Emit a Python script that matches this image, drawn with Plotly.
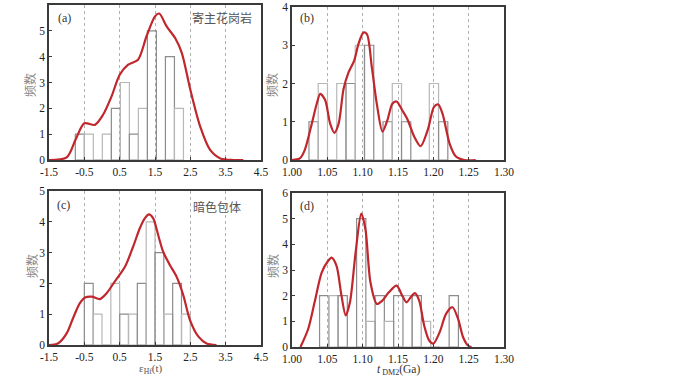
import plotly.graph_objects as go

# ---------------- data ----------------
# histogram bins: left edge, width and counts
a_start, a_width = -0.755, 0.255
a_counts = [1, 1, 0, 1, 2, 3, 1, 2, 5, 0, 4, 2]
b_start, b_width = 1.024, 0.0131
b_counts = [1, 2, 0, 2, 2, 3, 3, 0, 1, 2, 1, 0, 0, 2, 1]
c_start, c_width = -0.5, 0.25
c_counts = [2, 1, 0, 2, 1, 1, 2, 4, 3, 1, 2, 1]
d_start, d_width = 1.039, 0.0131
d_counts = [2, 2, 2, 0, 5, 1, 2, 1, 2, 2, 2, 1, 0, 0, 2]

# density curves
a_cx = [-1.5, -1.0, -0.75, -0.5, -0.2, 0.03, 0.27, 0.5, 0.74, 1.02, 1.26, 1.5, 1.62, 1.83, 2.07, 2.26, 2.5, 2.78, 3.06, 3.35, 3.72, 4.0]
a_cy = [0, 0.1, 0.78, 1.42, 1.36, 1.75, 2.46, 3.3, 3.69, 3.88, 4.79, 5.56, 5.67, 5.17, 4.72, 4.14, 2.72, 1.29, 0.39, 0.06, 0, 0]
b_cx = [1.00, 1.011, 1.018, 1.028, 1.035, 1.040, 1.047, 1.054, 1.060, 1.066, 1.073, 1.080, 1.088, 1.094, 1.101, 1.106, 1.113, 1.120, 1.128, 1.135, 1.142, 1.148, 1.156, 1.163, 1.173, 1.182, 1.192, 1.201, 1.207, 1.213, 1.223, 1.232, 1.244, 1.26]
b_cy = [0, 0.04, 0.26, 0.95, 1.47, 1.73, 1.56, 0.95, 0.71, 0.95, 1.86, 2.29, 2.6, 3.03, 3.33, 3.29, 2.42, 1.47, 0.74, 1.04, 1.47, 1.53, 1.30, 1.08, 0.61, 0.36, 0.78, 1.39, 1.45, 1.21, 0.43, 0.09, 0, 0]
c_cx = [-1.5, -1.25, -1.0, -0.82, -0.63, -0.48, -0.29, -0.06, 0.13, 0.36, 0.65, 0.88, 1.07, 1.21, 1.33, 1.45, 1.59, 1.73, 1.92, 2.11, 2.3, 2.49, 2.73, 2.96, 3.24]
c_cy = [0, 0.05, 0.38, 0.87, 1.35, 1.54, 1.57, 1.49, 1.68, 2.06, 2.54, 3.19, 3.79, 4.11, 4.24, 4.11, 3.57, 3.03, 2.6, 2.22, 1.62, 0.81, 0.27, 0.05, 0]
d_cx = [1.012, 1.023, 1.032, 1.042, 1.051, 1.056, 1.063, 1.070, 1.076, 1.082, 1.090, 1.098, 1.104, 1.111, 1.120, 1.128, 1.137, 1.148, 1.156, 1.162, 1.168, 1.174, 1.180, 1.187, 1.194, 1.200, 1.209, 1.218, 1.227, 1.235, 1.242, 1.249, 1.254]
d_cy = [0, 0.71, 1.74, 2.9, 3.35, 3.48, 3.16, 2.0, 1.23, 1.74, 3.68, 5.2, 4.58, 2.52, 1.68, 1.81, 2.13, 2.39, 2.0, 1.74, 1.94, 2.1, 1.81, 0.84, 0.26, 0.13, 0.58, 1.29, 1.55, 1.1, 0.39, 0.06, 0]

eps_ticks = [-1.5, -0.5, 0.5, 1.5, 2.5, 3.5, 4.5]
t_ticks = [1.00, 1.05, 1.10, 1.15, 1.20, 1.25, 1.30]

# ---------------- figure ----------------
SERIF = "Liberation Serif, Times New Roman, serif"
CJK = "Noto Sans CJK SC"
RED = "#c0272d"

fig = go.Figure()

panels = [
    ("x", "y", a_start, a_width, a_counts, a_cx, a_cy),
    ("x2", "y2", b_start, b_width, b_counts, b_cx, b_cy),
    ("x3", "y3", c_start, c_width, c_counts, c_cx, c_cy),
    ("x4", "y4", d_start, d_width, d_counts, d_cx, d_cy),
]

for xa, ya, start, width, counts, cx, cy in panels:
    xs = [start + (i + 0.5) * width for i in range(len(counts))]
    cols = ["#8c8c8c" if i % 2 == 0 else "#b8b8b8" for i in range(len(counts))]
    fig.add_trace(go.Bar(
        x=xs, y=counts, width=width, xaxis=xa, yaxis=ya,
        marker=dict(color="rgba(255,255,255,0)", line=dict(color=cols, width=1.2)),
        showlegend=False, hoverinfo="skip"))
    fig.add_trace(go.Scatter(
        x=cx, y=cy, xaxis=xa, yaxis=ya, mode="lines",
        line=dict(color=RED, width=2.2, shape="spline", smoothing=0.8),
        showlegend=False, hoverinfo="skip"))

W, H = 700, 377
def dx(a, b):
    return [a / W, b / W]
def dy(top, bottom):
    return [1 - bottom / H, 1 - top / H]

axis_common = dict(
    showline=True, mirror=True, linecolor="#3a3a3a", linewidth=1.5,
    ticks="inside", ticklen=3, tickcolor="#3a3a3a",
    tickfont=dict(family=SERIF, size=11.5, color="#222"),
    zeroline=False, automargin=False,
)
xgrid = dict(showgrid=True, gridcolor="#b0b0b0", griddash="dot", gridwidth=1)

fig.update_layout(
    width=W, height=H, margin=dict(l=0, r=0, t=0, b=0, autoexpand=False),
    paper_bgcolor="white", plot_bgcolor="white", barmode="overlay",
    xaxis=dict(domain=dx(49, 261), range=[-1.5, 4.5], tickvals=eps_ticks,
               ticktext=[f"{v:.1f}" for v in eps_ticks], anchor="y", **axis_common, **xgrid),
    yaxis=dict(domain=dy(5, 160), range=[0, 6], dtick=1, anchor="x", showgrid=False, **axis_common),
    xaxis2=dict(domain=dx(292, 504), range=[1.0, 1.3], tickvals=t_ticks,
                ticktext=[f"{v:.2f}" for v in t_ticks], anchor="y2", **axis_common, **xgrid),
    yaxis2=dict(domain=dy(7, 160), range=[0, 4], dtick=1, anchor="x2", showgrid=False, **axis_common),
    xaxis3=dict(domain=dx(49, 261), range=[-1.5, 4.5], tickvals=eps_ticks,
                ticktext=[f"{v:.1f}" for v in eps_ticks], anchor="y3", **axis_common, **xgrid),
    yaxis3=dict(domain=dy(191, 345), range=[0, 5], dtick=1, anchor="x3", showgrid=False, **axis_common),
    xaxis4=dict(domain=dx(292, 504), range=[1.0, 1.3], tickvals=t_ticks,
                ticktext=[f"{v:.2f}" for v in t_ticks], anchor="y4", **axis_common, **xgrid),
    yaxis4=dict(domain=dy(193, 347), range=[0, 6], dtick=1, anchor="x4", showgrid=False, **axis_common),
)

def ptext(x, y, text, size=12, color="#333", family=SERIF, angle=0, xanchor="center"):
    fig.add_annotation(x=x / W, y=1 - y / H, xref="paper", yref="paper", text=text,
                       showarrow=False, textangle=angle, xanchor=xanchor, yanchor="middle",
                       font=dict(family=family, size=size, color=color))

# panel labels
ptext(56, 18, "(a)", 12, xanchor="left")
ptext(298, 18, "(b)", 12, xanchor="left")
ptext(55, 205, "(c)", 12, xanchor="left")
ptext(298, 206, "(d)", 12, xanchor="left")
# sample names
ptext(222, 18, "寄主花岗岩", 12, "#555", CJK)
ptext(217, 206, "暗色包体", 12, "#555", CJK)
# y titles
for x, y in [(30, 85), (272, 85), (31, 266), (272, 266)]:
    ptext(x, y, "频数", 12, "#8a8a8a", CJK, angle=-90)
# x titles
ptext(150, 369, "ε<sub>Hf</sub>(t)", 11, "#555")
ptext(398, 370, "<i>t</i><sub> DM2</sub>(Ga)", 11.5, "#333")

fig.write_html("out.html", config={"displayModeBar": False},
               post_script="document.body.style.margin='0';document.body.style.overflow='hidden';")
